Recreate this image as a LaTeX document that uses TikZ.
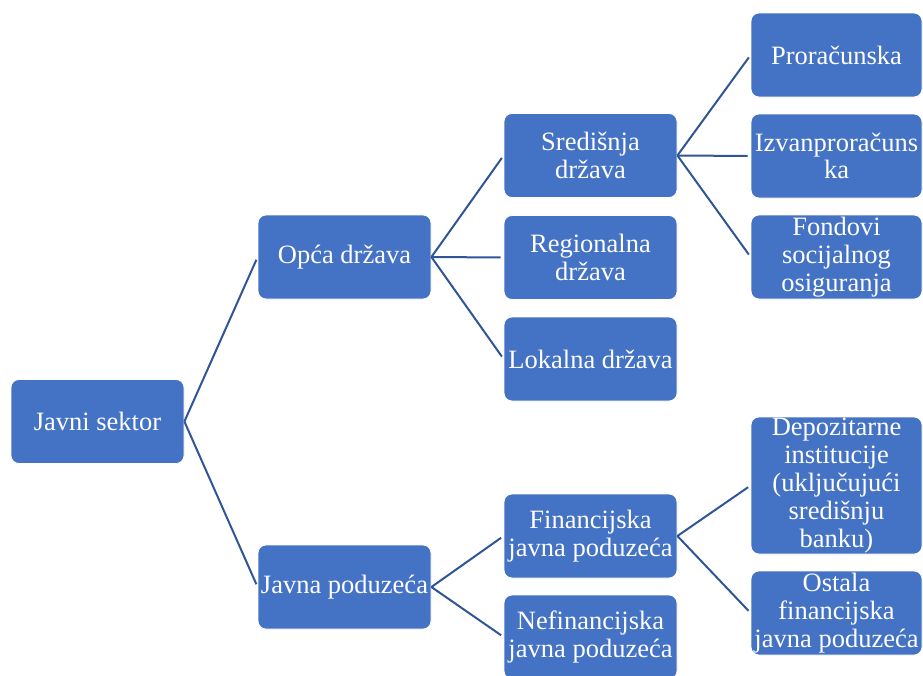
\documentclass[tikz,border=0pt]{standalone}
\usepackage{fontspec}
\setmainfont{Liberation Serif}
\usepackage{tikz}

\definecolor{boxblue}{HTML}{4472C4}
\definecolor{lineblue}{HTML}{2F5597}

\tikzset{
  box/.style={rectangle, rounded corners=8pt, fill=boxblue, draw=white, line width=0.8pt,
    text=white, align=center, inner sep=0pt, minimum width=173pt, minimum height=84pt,
    font=\fontsize{26.5}{27.8}\selectfont},
  link/.style={color=lineblue, line width=2pt, shorten >=3pt}
}

\begin{document}
\begin{tikzpicture}[x=1pt,y=-1pt]
   \useasboundingbox (0,0) rectangle (923,675);
   \begin{scope}
   \clip (0,0) rectangle (923,675);
   \node[box] (js) at (97.5,421.5) {Javni sektor};
   \node[box] (opca) at (344.5,257) {Opća država};
   \node[box] (jp) at (344.5,587) {Javna poduzeća};
   \node[box] (sred) at (590.5,155.5) {Središnja\\država};
   \node[box] (reg) at (590.5,257.5) {Regionalna\\država};
   \node[box] (lok) at (590.5,359) {Lokalna država};
   \node[box] (fin) at (590.5,536) {Financijska\\javna poduzeća};
   \node[box] (nef) at (590.5,637) {Nefinancijska\\javna poduzeća};
   \node[box,minimum width=171pt] (pror) at (836.5,55) {Proračunska};
   \node[box,minimum width=171pt] (izv) at (836.5,156) {Izvanproračuns\\ka};
   \node[box,minimum width=171pt] (fond) at (836.5,257) {Fondovi\\socijalnog\\osiguranja};
   \node[box,minimum width=171pt,minimum height=137pt] (dep) at (836.5,485.5) {Depozitarne\\institucije\\(uključujući\\središnju\\banku)};
   \node[box,minimum width=171pt] (ost) at (836.5,613) {Ostala\\financijska\\javna poduzeća};
   \end{scope}
   \draw[link] (js.east) -- (opca.west);
   \draw[link] (js.east) -- (jp.west);
   \draw[link] (opca.east) -- (sred.west);
   \draw[link] (opca.east) -- (reg.west);
   \draw[link] (opca.east) -- (lok.west);
   \draw[link] (jp.east) -- (fin.west);
   \draw[link] (jp.east) -- (nef.west);
   \draw[link] (sred.east) -- (pror.west);
   \draw[link] (sred.east) -- (izv.west);
   \draw[link] (sred.east) -- (fond.west);
   \draw[link] (fin.east) -- (dep.west);
   \draw[link] (fin.east) -- (ost.west);
\end{tikzpicture}
\end{document}
